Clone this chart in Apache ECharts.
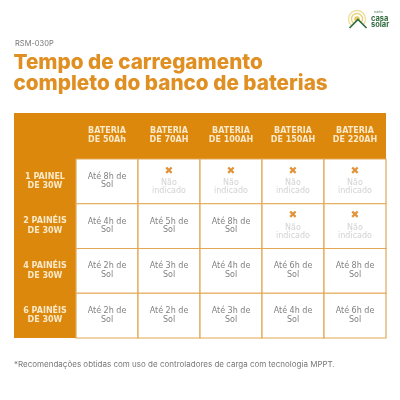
<!DOCTYPE html>
<html>
<head>
<meta charset="utf-8">
<style>html,body{margin:0;padding:0;background:#fff}#main{width:400px;height:400px}</style>
<script src="https://cdn.jsdelivr.net/npm/echarts@6/dist/echarts.min.js"></script>
</head>
<body>
<div id="main"></div>
<script>
var batteries = ['BATERIA\nDE 50Ah', 'BATERIA\nDE 70AH', 'BATERIA\nDE 100AH', 'BATERIA\nDE 150AH', 'BATERIA\nDE 220AH'];
var panels = ['1 PAINEL\nDE 30W', '2 PAINÉIS\nDE 30W', '4 PAINÉIS\nDE 30W', '6 PAINÉIS\nDE 30W'];
// horas de sol, null = nao indicado
var onePanel = [8, null, null, null, null];
var twoPanels = [4, 5, 8, null, null];
var fourPanels = [2, 3, 4, 6, 8];
var sixPanels = [2, 2, 3, 4, 6];
var hours = [onePanel, twoPanels, fourPanels, sixPanels];

var orange = '#dc880c';
var cells = [];
hours.forEach(function (row, r) {
    row.forEach(function (h, c) {
        cells.push([c, r, h === null ? '-' : h]);
    });
});

function cellText(x, y, text, color, font) {
    return {
        type: 'text',
        style: {x: x, y: y, text: text, fill: color, font: font, textAlign: 'center', textVerticalAlign: 'middle'}
    };
}

function renderCell(params, api) {
    var p = api.coord([api.value(0), api.value(1)]);
    var size = api.size([1, 1]);
    var h = api.value(2);
    var children = [{
        type: 'rect',
        shape: {x: p[0] - size[0] / 2, y: p[1] - size[1] / 2, width: size[0], height: size[1]},
        style: {fill: '#fff', stroke: '#e2a856', lineWidth: 1.2}
    }];
    var textFont = '8px "DejaVu Sans"';
    if (isNaN(h)) {
        children.push(cellText(p[0], p[1] - 10.5, '✖', '#e2943a', '10.5px "DejaVu Sans"'));
        children.push(cellText(p[0], p[1] + 1.5, 'Não', '#d2d2d2', textFont));
        children.push(cellText(p[0], p[1] + 9.5, 'indicado', '#d2d2d2', textFont));
    } else {
        children.push(cellText(p[0], p[1] - 4.5, 'Até ' + h + 'h de', '#808080', textFont));
        children.push(cellText(p[0], p[1] + 4, 'Sol', '#808080', textFont));
    }
    return {type: 'group', children: children};
}

var myChart = echarts.init(document.getElementById('main'));
myChart.setOption({
    animation: false,
    backgroundColor: '#fff',
    title: [{
        text: 'RSM-030P',
        left: 10, top: 35,
        textStyle: {fontFamily: 'Inter', fontSize: 7.5, fontWeight: 'normal', color: '#777'}
    }, {
        text: 'Tempo de carregamento\ncompleto do banco de baterias',
        left: 8.5, top: 47,
        textStyle: {fontFamily: 'Inter', fontSize: 20.7, fontWeight: 800, color: '#e08f22', lineHeight: 21}
    }, {
        text: '*Recomendações obtidas com uso de controladores de carga com tecnologia MPPT.',
        left: 9, top: 356,
        textStyle: {fontFamily: 'Inter', fontSize: 8, fontWeight: 'normal', color: '#777'}
    }],
    grid: {left: 76, right: 14, top: 159, bottom: 62},
    xAxis: {
        type: 'category',
        position: 'top',
        data: batteries,
        axisLine: {show: false},
        axisTick: {show: false},
        splitLine: {show: false},
        axisLabel: {
            interval: 0, margin: 14, lineHeight: 9.5,
            fontFamily: 'DejaVu Sans', fontSize: 8, fontWeight: 'bold', color: '#fbe9c8'
        }
    },
    yAxis: {
        type: 'category',
        inverse: true,
        data: panels,
        axisLine: {show: false},
        axisTick: {show: false},
        splitLine: {show: false},
        axisLabel: {
            interval: 0, margin: 31, lineHeight: 9.5, align: 'center',
            fontFamily: 'DejaVu Sans', fontSize: 8, fontWeight: 'bold', color: '#fbe9c8'
        }
    },
    series: [{
        type: 'custom',
        data: cells,
        encode: {x: 0, y: 1},
        renderItem: renderCell,
        silent: true
    }],
    graphic: [{
        // fundo laranja do cabecalho
        type: 'group', silent: true, z: -1,
        children: [
            {type: 'rect', shape: {x: 14, y: 113, width: 372, height: 46}, style: {fill: orange}},
            {type: 'rect', shape: {x: 14, y: 159, width: 62, height: 179}, style: {fill: orange}}
        ]
    }, {
        // logo
        type: 'group', silent: true,
        children: [
            {type: 'circle', shape: {cx: 357, cy: 19, r: 8.5}, style: {stroke: '#ecdf9c', fill: '#fff', lineWidth: 1.4}},
            {type: 'circle', shape: {cx: 357, cy: 19, r: 5.5}, style: {stroke: '#e8d27c', fill: '#fff', lineWidth: 1.4}},
            {type: 'circle', shape: {cx: 357, cy: 19, r: 2.8}, style: {fill: '#e6c95e'}},
            {type: 'polygon', shape: {points: [[347, 30], [358, 19.5], [369, 30]]}, style: {fill: '#fff'}},
            {type: 'polyline', shape: {points: [[349.5, 28], [358, 19.5], [366.5, 28]]}, style: {stroke: '#2f6b3c', fill: null, lineWidth: 1.6}},
            {type: 'text', style: {x: 374, y: 11, text: 'minha', fontSize: 3, fontFamily: 'Inter', fill: '#4a7a55'}},
            {type: 'text', style: {x: 371, y: 15, text: 'casa', fontSize: 7.5, fontWeight: 'bold', fontFamily: 'Inter', fill: '#2f6b3c'}},
            {type: 'text', style: {x: 371, y: 21, text: 'solar', fontSize: 7.5, fontWeight: 'bold', fontFamily: 'Inter', fill: '#2f6b3c'}}
        ]
    }]
});
</script>
</body>
</html>
